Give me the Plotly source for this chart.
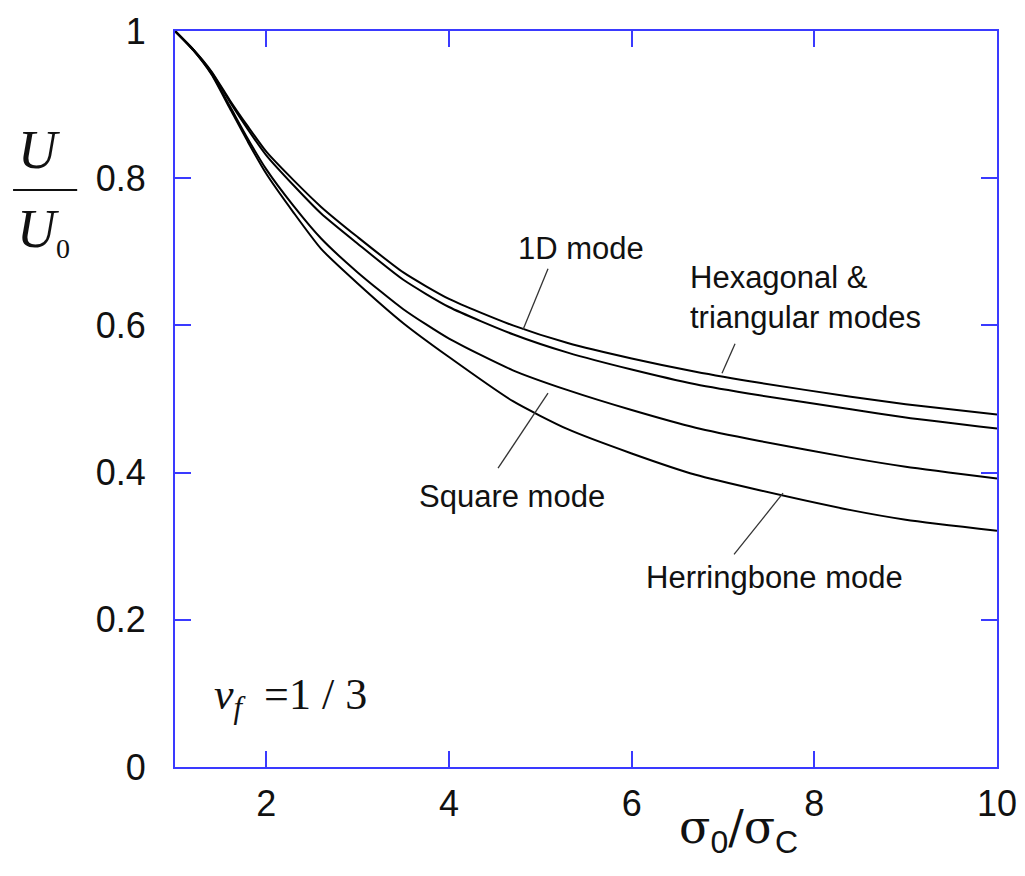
import plotly.graph_objects as go

# sigma_0 / sigma_C
ratio = [1, 1.2, 1.4, 1.6, 1.8, 2.0, 2.3, 2.6, 3.0, 3.5, 4.0, 4.7, 5.3, 6.0, 6.7, 7.4, 8.4, 9.0, 10]

# U / U_0 for each mode
hexagonal = [1, 0.975, 0.945, 0.906, 0.870, 0.836, 0.797, 0.761, 0.720, 0.672, 0.636, 0.600, 0.576, 0.555, 0.537, 0.522, 0.503, 0.493, 0.479]
one_d = [1, 0.975, 0.944, 0.904, 0.866, 0.831, 0.790, 0.752, 0.711, 0.662, 0.625, 0.588, 0.563, 0.540, 0.520, 0.505, 0.486, 0.475, 0.460]
square = [1, 0.974, 0.942, 0.898, 0.853, 0.812, 0.762, 0.718, 0.672, 0.622, 0.582, 0.539, 0.512, 0.485, 0.461, 0.443, 0.420, 0.408, 0.392]
herringbone = [1, 0.974, 0.941, 0.895, 0.849, 0.806, 0.753, 0.704, 0.657, 0.603, 0.557, 0.497, 0.459, 0.426, 0.397, 0.376, 0.349, 0.336, 0.321]

x_ticks = [2, 4, 6, 8, 10]
y_ticks = [0, 0.2, 0.4, 0.6, 0.8, 1]
y_ticktext = ["0", "0.2", "0.4", "0.6", "0.8", "1"]

# labels: text, x, y, anchor
labels = [
    ("1D mode", 5.445, 0.705, "center"),
    ("Hexagonal &<br>triangular modes", 6.617, 0.638, "left"),
    ("Square mode", 4.69, 0.367, "center"),
    ("Herringbone mode", 7.56, 0.257, "center"),
]
# leader lines: (x0, y0, x1, y1)
leaders = [
    (5.084, 0.677, 4.810, 0.594),
    (7.132, 0.575, 6.989, 0.535),
    (4.537, 0.406, 5.084, 0.508),
    (7.121, 0.289, 7.657, 0.372),
]

BLUE = "#3a3aff"
TXT = "#111111"

fig = go.Figure()
for name, ys in [("Hexagonal & triangular", hexagonal), ("1D", one_d),
                 ("Square", square), ("Herringbone", herringbone)]:
    fig.add_trace(go.Scatter(x=ratio, y=ys, mode="lines", name=name,
                             line=dict(color="black", width=2, shape="spline", smoothing=0.6),
                             showlegend=False))

for text, x, y, anchor in labels:
    fig.add_annotation(x=x, y=y, text=text, showarrow=False, xanchor=anchor, yanchor="middle",
                       align="left", font=dict(family="Liberation Sans", size=31, color=TXT))

for x0, y0, x1, y1 in leaders:
    fig.add_shape(type="line", x0=x0, y0=y0, x1=x1, y1=y1,
                  line=dict(color="#333333", width=1.3))

# nu_f = 1/3
fig.add_annotation(x=1.40, y=0.095, xanchor="left", yanchor="middle", showarrow=False,
                   text="<i>ν</i><sub><i>f</i></sub>\u2002=1 / 3",
                   font=dict(family="Liberation Serif", size=44, color=TXT))

# y title as a fraction U / U0
fig.add_annotation(xref="paper", yref="paper", x=-0.165, y=0.838, xanchor="center", yanchor="middle",
                   showarrow=False, text="<i>U</i>",
                   font=dict(family="Liberation Serif", size=54, color=TXT))
fig.add_shape(type="line", xref="paper", yref="paper", x0=-0.197, x1=-0.119, y0=0.784, y1=0.784,
              line=dict(color=TXT, width=2))
fig.add_annotation(xref="paper", yref="paper", x=-0.160, y=0.728, xanchor="center", yanchor="middle",
                   showarrow=False,
                   text="<i>U</i><sub><span style='font-size:28px'>0</span></sub>",
                   font=dict(family="Liberation Serif", size=54, color=TXT))

# x title
fig.add_annotation(xref="paper", yref="paper", x=0.685, y=-0.085, xanchor="center", yanchor="middle",
                   showarrow=False,
                   text="σ<sub><span style='font-family:Liberation Sans;font-size:32px'>0</span></sub>/σ"
                        "<sub><span style='font-family:Liberation Sans;font-size:32px'>C</span></sub>",
                   font=dict(family="DejaVu Serif", size=46, color=TXT))

axis_style = dict(showline=True, linecolor=BLUE, linewidth=2, mirror="ticks",
                  ticks="inside", ticklen=16, tickwidth=2, tickcolor=BLUE,
                  showgrid=False, zeroline=False, automargin=False,
                  ticklabeloverflow="allow",
                  tickfont=dict(family="Liberation Sans", size=36, color=TXT))

# page body has an 8px margin, so the figure is a little smaller than the window
fig.update_layout(
    width=1009, height=860,
    margin=dict(l=167, r=20, t=23, b=101),
    plot_bgcolor="white", paper_bgcolor="white",
    xaxis=dict(range=[1, 10], tickvals=x_ticks, ticklabelstandoff=4, **axis_style),
    yaxis=dict(range=[0, 1], tickvals=y_ticks, ticktext=y_ticktext, ticklabelstandoff=20, **axis_style),
)

fig.write_html("out.html")
